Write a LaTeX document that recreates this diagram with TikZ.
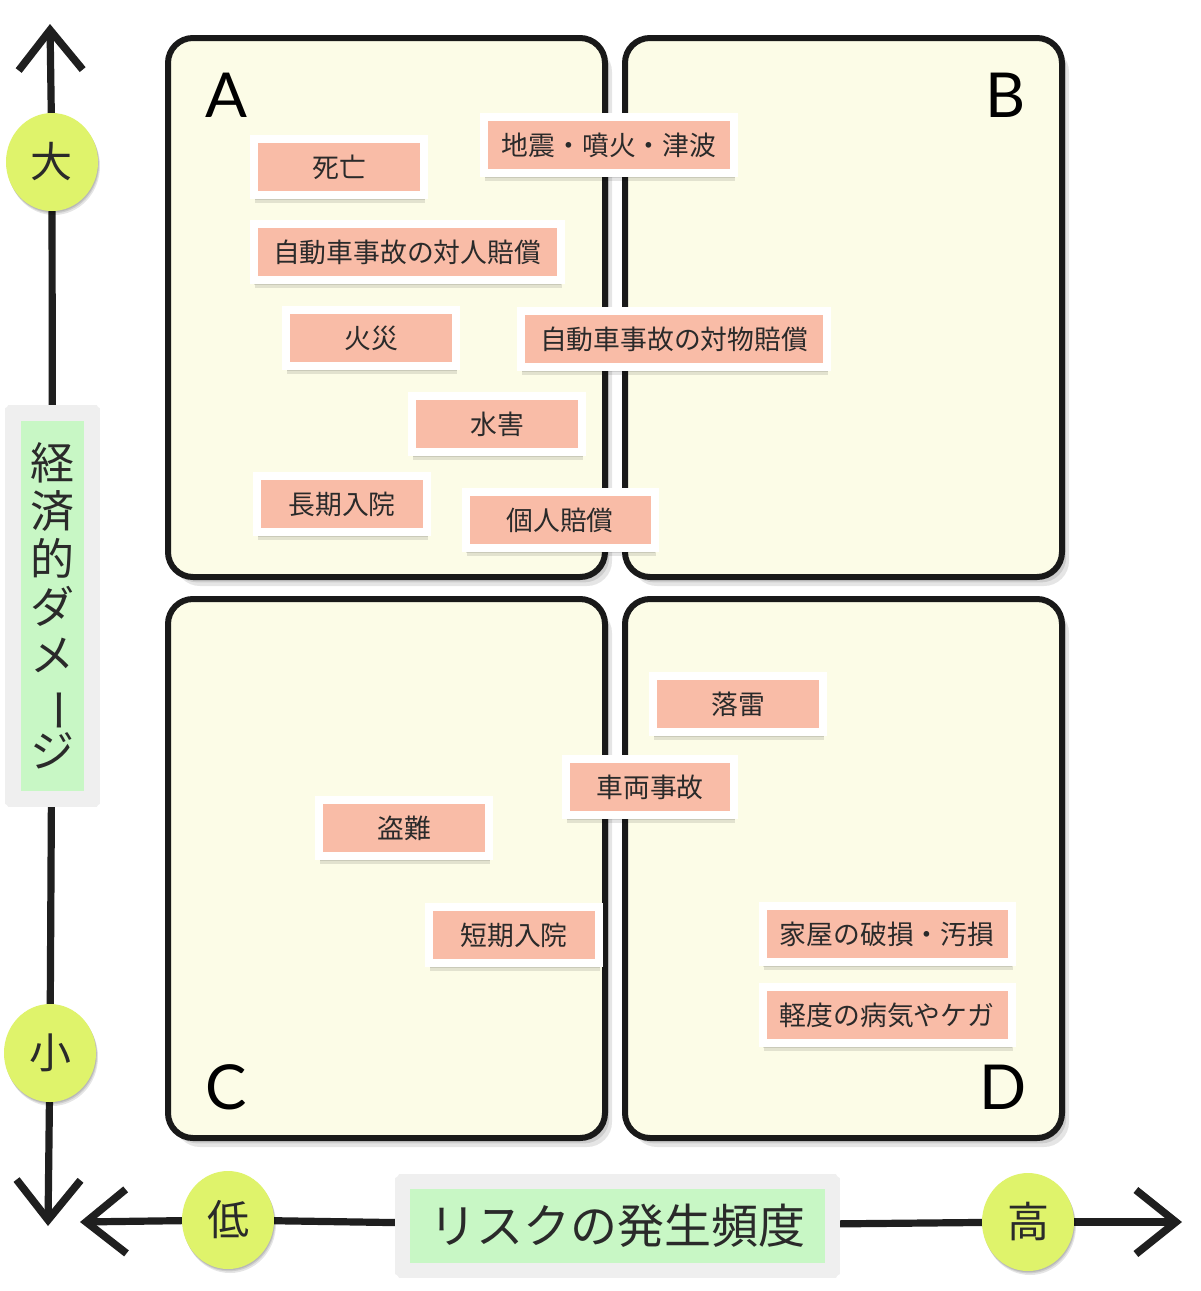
\documentclass[tikz,border=0pt]{standalone}
\usepackage{fontspec}
\setmainfont{Noto Sans CJK JP}
\newfontfamily\latinf{Lato}
\usetikzlibrary{shapes.geometric,arrows.meta,shadows,decorations.pathmorphing}
\definecolor{quadfill}{HTML}{FCFCE7}
\definecolor{pinkc}{HTML}{F9BCA7}
\definecolor{greenc}{HTML}{C8F7C5}
\definecolor{circc}{HTML}{DFF36B}
\definecolor{framec}{HTML}{EFEFEF}
\definecolor{txt}{HTML}{2A2A2A}
\pgfdeclarelayer{back}
\pgfdeclarelayer{bg}
\pgfsetlayers{back,bg,main}
\begin{document}
\begin{tikzpicture}[x=0.5pt,y=-0.5pt,
  softshadow/.style n args={2}{
    general shadow={draw=none, fill=black, opacity=0.10, shadow xshift=#1, shadow yshift=#2},
    general shadow={draw=none, fill=black, opacity=0.10, shadow xshift=0.6*#1, shadow yshift=0.6*#2},
    general shadow={draw=none, fill=black, opacity=0.10, shadow xshift=0.3*#1, shadow yshift=0.3*#2}},
  quad/.style={draw=black!90, line width=3pt, fill=quadfill, rounded corners=12.5pt,
    minimum width=218.5pt, minimum height=269.5pt, inner sep=0pt,
    softshadow={3.5pt}{-4.5pt}},
  letter/.style={font=\latinf\fontsize{31}{31}\selectfont, text=black, inner sep=0pt},
  lab/.style={fill=pinkc, draw=white, line width=4pt, minimum height=28pt, inner sep=0pt,
    text=txt, font=\fontsize{13.4}{16}\selectfont, softshadow={0.5pt}{-4pt}},
  circ/.style={ellipse, fill=circc, minimum width=46pt, minimum height=49pt, inner sep=0pt,
    text=txt, font=\fontsize{21}{21}\selectfont, softshadow={1pt}{-2pt}},
  axlab/.style={fill=greenc, draw=framec, inner sep=0pt, text=txt, softshadow={1.5pt}{-2.5pt}},
  axis/.style={draw=black!88, line width=3.6pt, line cap=round},
  tip/.tip={Straight Barb[length=20pt,width=32pt,line width=3.8pt]}
]
\begin{pgfonlayer}{back}
\fill[white] (0,0) rectangle (1200,1291);
\end{pgfonlayer}
\useasboundingbox (0,0) rectangle (1200,1291);

% quadrants
\node[quad] (qA) at (386.5,307.5) {};
\node[quad] (qB) at (843.5,307.5) {};
\node[quad] (qC) at (386.5,868.5) {};
\node[quad] (qD) at (843.5,868.5) {};
\node[letter] (lA) at (226,95) {A};
\node[letter] (lB) at (1006,95) {B};
\node[letter] (lC) at (226,1087) {C};
\node[letter] (lD) at (1003,1087) {D};

% risk labels
\node[lab, minimum width=85pt] (shibou) at (339,167) {死亡};
\node[lab, minimum width=125pt] (jishin) at (609,145) {地震・噴火・津波};
\node[lab, minimum width=153.5pt] (taijin) at (407,252) {自動車事故の対人賠償};
\node[lab, minimum width=85pt] (kasai) at (371,338) {火災};
\node[lab, minimum width=153pt] (taibutsu) at (674,339) {自動車事故の対物賠償};
\node[lab, minimum width=85pt] (suigai) at (497,424) {水害};
\node[lab, minimum width=85pt] (chouki) at (342,504) {長期入院};
\node[lab, minimum width=94.5pt] (kojin) at (560,520) {個人賠償};
\node[lab, minimum width=85pt] (rakurai) at (738,704) {落雷};
\node[lab, minimum width=84pt] (sharyou) at (650,787) {車両事故};
\node[lab, minimum width=85pt] (tounan) at (404,828) {盗難};
\node[lab, minimum width=85pt] (tanki) at (514,935) {短期入院};
\node[lab, minimum width=124.5pt] (kaoku) at (887,934) {家屋の破損・汚損};
\node[lab, minimum width=124.5pt] (keido) at (887,1015) {軽度の病気やケガ};

% axes nodes
\coordinate (vtop) at (50,24);
\coordinate (vbot) at (48,1226);
\coordinate (hleft) at (80,1222);
\coordinate (hright) at (1182,1222);
\node[circ] (big) at (52,162) {大};
\node[circ] (small) at (50,1053) {小};
\node[circ] (low) at (228,1220) {低};
\node[circ] (high) at (1028,1222) {高};
\node[axlab, line width=8pt, minimum width=39.5pt, minimum height=193pt,
  font=\fontsize{22}{24}\selectfont, align=center] (vlab) at (52.5,606)
  {経\\済\\的\\ダ\\メ\\\rotatebox[origin=c]{-90}{ー}\\ジ};
\node[axlab, line width=7.5pt, minimum width=215pt, minimum height=44.5pt,
  font=\fontsize{23.5}{24}\selectfont] (hlab) at (617.5,1226) {リスクの発生頻度};
% concave corners of the axis label frames
\foreach \n/\dx/\dy in {vlab/4/4, hlab/3.75/3.75}{
  \fill[white] ([shift={(-\dx pt,\dy pt)}]\n.north west) circle[radius=7pt];
  \fill[white] ([shift={(\dx pt,\dy pt)}]\n.north east) circle[radius=7pt];
  \fill[white] ([shift={(-\dx pt,-\dy pt)}]\n.south west) circle[radius=7pt];
  \fill[white] ([shift={(\dx pt,-\dy pt)}]\n.south east) circle[radius=7pt];
}

\begin{pgfonlayer}{bg}
\draw[axis, tip-] (vtop) -- (big);
\draw[axis] (big) -- (vlab);
\draw[axis] (vlab) -- (small);
\draw[axis, -tip] (small) -- (vbot);
\draw[axis, tip-] (hleft) -- (low);
\draw[axis] (low) -- (hlab);
\draw[axis] (hlab) -- (high);
\draw[axis, -tip] (high) -- (hright);
\end{pgfonlayer}
\end{tikzpicture}
\end{document}
